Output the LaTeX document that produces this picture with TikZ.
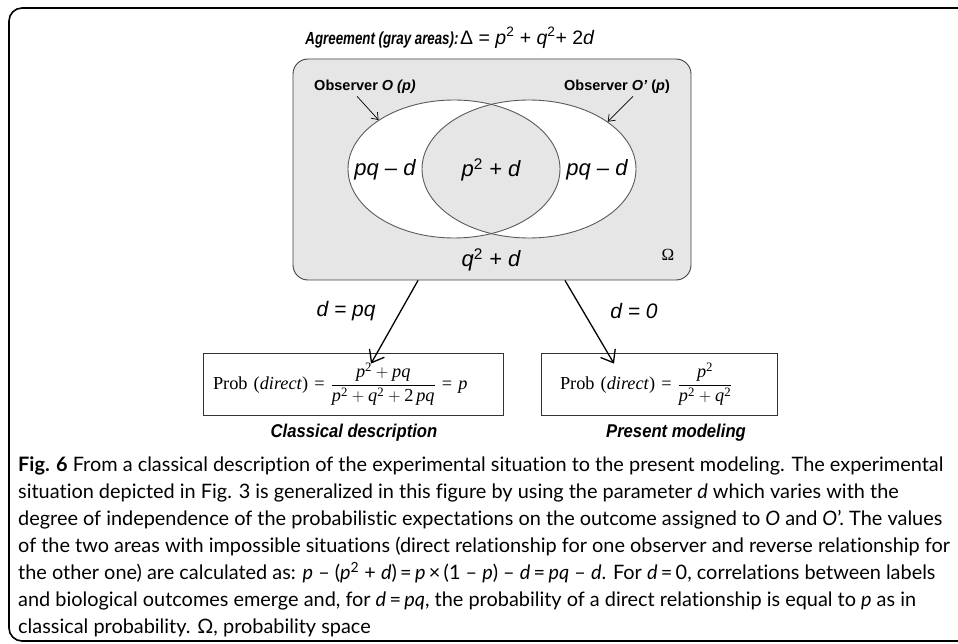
\documentclass[tikz,border=0pt]{standalone}
\usepackage{amsmath}
\usepackage{fontspec}
\setmainfont{Liberation Sans}
\newfontfamily\capfont[Ligatures={NoCommon,NoRare}]{Lato}
\newfontfamily\tms{Liberation Serif}
\usetikzlibrary{arrows.meta,shapes.geometric}
\definecolor{areagray}{HTML}{E6E6E6}
\definecolor{edgegray}{HTML}{5A5A5A}
\tikzset{
  venn/.style={ellipse, draw=edgegray, line width=0.9pt, inner sep=0pt},
  obsarrow/.style={line width=0.7pt, -{Straight Barb[length=6pt,width=9pt]}},
  bigarrow/.style={line width=1.3pt, -{Straight Barb[length=11pt,width=17pt,line width=1.3pt]}},
  areatext/.style={font=\fontsize{22}{26}\selectfont\itshape},
  dtext/.style={font=\fontsize{21}{25}\selectfont\itshape},
  obstext/.style={font=\fontsize{14.5}{17}\selectfont\bfseries},
  fbox/.style={draw=black!80, line width=0.8pt, align=left, minimum height=62pt, font=\tms\fontsize{18.3}{22}\selectfont},
  subtitle/.style={font=\fontsize{18.5}{22}\selectfont\bfseries\itshape},
}
\begin{document}
\begin{tikzpicture}[x=1pt,y=-1pt]
\useasboundingbox (0,0) rectangle (958,644);
\begin{scope}
\clip (0,0) rectangle (958,644);
\draw[line width=1.6pt, rounded corners=13pt] (9,8) rectangle (1010,641);
\end{scope}

% title
\node (title) at (450,38) {\scalebox{0.76}[1]{\fontsize{17.5}{20}\selectfont\bfseries\itshape Agreement (gray areas):}\,{\fontsize{19.5}{22}\selectfont Δ = \textit{p}\textsuperscript{2} + \textit{q}\textsuperscript{2}+ 2\textit{d}}};

% probability space
\node[draw=black!75, line width=0.9pt, fill=areagray, rounded corners=15pt, minimum width=398pt, minimum height=221pt] (omega) at (492,169.5) {};
\fill[white] (454,169) ellipse [x radius=106pt, y radius=69pt];
\fill[white] (529,169) ellipse [x radius=107pt, y radius=69pt];
\begin{scope}
\clip (454,169) ellipse [x radius=106pt, y radius=69pt];
\fill[areagray] (529,169) ellipse [x radius=107pt, y radius=69pt];
\end{scope}
\node[venn, minimum width=212pt, minimum height=138pt] (elL) at (454,169) {};
\node[venn, minimum width=214pt, minimum height=138pt] (elR) at (529,169) {};

\node[areatext] (aL) at (385,170) {pq – d};
\node[areatext] (aM) at (491,170) {p\textsuperscript{\upshape 2} + d};
\node[areatext] (aR) at (597,170) {pq – d};
\node[areatext] (aQ) at (491,260) {q\textsuperscript{\upshape 2} + d};
\node[font=\tms\fontsize{17}{20}\selectfont] (om) at (668,255) {Ω};

\node[obstext] (obsL) at (365,87) {Observer \textit{O (p)}};
\node[obstext] (obsR) at (617,87) {Observer \textit{O’} (\textit{p})};
\draw[obsarrow] ([xshift=-8pt,yshift=1pt]obsL.south) -- (elL.147);
\draw[obsarrow] ([xshift=16pt,yshift=1pt]obsR.south) -- (elR.31);

% results
\node[fbox, text width=280pt, inner xsep=10pt] (boxL) at (353,384) {Prob (\textit{direct}) = $\dfrac{\text{\textit{p}}^{\text{2}} + \text{\textit{pq}}}{\text{\textit{p}}^{\text{2}} + \text{\textit{q}}^{\text{2}} + \text{2}\,\text{\textit{pq}}}$ = \textit{p}};
\node[fbox, text width=198pt, inner xsep=19pt] (boxR) at (659,384) {Prob (\textit{direct}) = $\dfrac{\text{\textit{p}}^{\text{2}}}{\text{\textit{p}}^{\text{2}} + \text{\textit{q}}^{\text{2}}}$};

\draw[bigarrow] ([xshift=-74pt]omega.south) -- ([xshift=18pt,yshift=-11pt]boxL.north);
\draw[bigarrow] ([xshift=73pt]omega.south) -- ([xshift=-45pt,yshift=-11pt]boxR.north);
\node[dtext] (dL) at (346,311) {d = pq};
\node[dtext] (dR) at (634,311) {d = 0};

\node[subtitle] (cL) at (354,433) {\scalebox{0.9}[1]{Classical description}};
\node[subtitle] (cR) at (676,433) {\scalebox{0.9}[1]{Present modeling}};

% caption
\node[anchor=north west, align=left, inner sep=0pt, font=\capfont\fontsize{19.9}{27}\selectfont] (cap) at (18,457) {%
\textbf{Fig. 6} From a classical description of the experimental situation to the present modeling. The experimental\\
situation depicted in Fig. 3 is generalized in this figure by using the parameter \textit{d} which varies with the\\
degree of independence of the probabilistic expectations on the outcome assigned to \textit{O} and \textit{O}’. The values\\
of the two areas with impossible situations (direct relationship for one observer and reverse relationship for\\
the other one) are calculated as: \textit{p} – (\textit{p}\textsuperscript{2} + \textit{d})\,=\,\textit{p}\,×\,(1 – \textit{p}) – \textit{d}\,=\,\textit{pq} – \textit{d}. For \textit{d}\,=\,0, correlations between labels\\
and biological outcomes emerge and, for \textit{d}\,=\,\textit{pq}, the probability of a direct relationship is equal to \textit{p} as in\\
classical probability. Ω, probability space};
\end{tikzpicture}
\end{document}
